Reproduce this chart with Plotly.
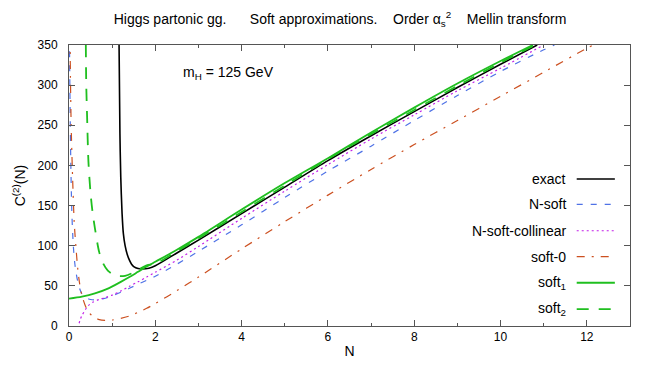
import plotly.graph_objects as go

# ---------------- data ----------------
N_exact = [1.16, 1.18, 1.20, 1.23, 1.26, 1.30, 1.35, 1.40, 1.45, 1.50, 1.60, 1.70, 1.85,
           2.0, 2.5, 3.0, 4.0, 5.0, 6.0, 7.0, 8.0, 9.0, 10.0, 10.85]
C_exact = [350, 240, 185, 140, 115, 100, 89, 82, 77, 74, 71.5, 71, 72,
           75, 91, 107, 140, 173, 206, 237, 267, 297, 326, 350]

N_nsoft = [0.01, 0.02, 0.03, 0.04, 0.055, 0.07, 0.10, 0.13, 0.16, 0.20, 0.25, 0.30, 0.40,
           0.50, 0.60, 0.80, 1.0, 1.2, 1.4, 1.6, 1.8, 2.0, 2.5, 3.0, 4.0, 5.0, 6.0, 7.0,
           8.0, 9.0, 10.0, 11.0, 11.25]
C_nsoft = [360, 300, 250, 210, 165, 135, 100, 80, 68, 56, 46, 40, 35,
           33, 32.5, 34, 37.5, 42, 47, 52, 57, 62, 77, 93, 126, 160, 193, 224,
           256, 287, 317, 344, 350]

N_nsc = [0.18, 0.22, 0.26, 0.30, 0.38, 0.45, 0.55, 0.70, 0.85, 1.0, 1.2, 1.4, 1.6, 1.8,
         2.0, 2.5, 3.0, 4.0, 5.0, 6.0, 7.0, 8.0, 9.0, 10.0, 11.0]
C_nsc = [-15, 0, 8, 13, 20.5, 25.5, 29.5, 33, 35.5, 38.5, 43.5, 49.5, 55, 61,
         67, 82, 99, 134, 168, 201, 233, 263, 293, 321, 350]

N_soft0 = [0.025, 0.03, 0.05, 0.085, 0.12, 0.16, 0.20, 0.24, 0.30, 0.38, 0.45, 0.55, 0.70,
           0.85, 1.0, 1.2, 1.4, 1.6, 1.8, 2.0, 2.5, 3.0, 4.0, 5.0, 6.0, 7.0, 8.0, 9.0,
           10.0, 11.0, 12.0, 12.15]
C_soft0 = [360, 327, 250, 182, 130, 99, 73, 55, 38, 25, 18, 12, 8,
           7, 7.5, 9.5, 12.5, 17, 22, 28, 44, 61, 96, 130, 163, 195, 226, 256,
           286, 316, 346, 350]

N_soft1 = [0.0, 0.3, 0.6, 0.9, 1.2, 1.4, 1.6, 1.8, 2.0, 2.5, 3.0, 4.0, 5.0, 6.0, 7.0,
           8.0, 9.0, 10.0, 10.75]
C_soft1 = [34, 36.5, 40.5, 46.5, 55, 61, 67.5, 74, 80, 95, 111, 145, 178, 209, 241,
           272, 302, 330, 350]

N_soft2 = [0.39, 0.40, 0.42, 0.45, 0.50, 0.55, 0.60, 0.70, 0.80, 0.90, 1.0, 1.1, 1.2,
           1.3, 1.45, 1.6, 1.8, 2.0, 2.5, 3.0, 4.0, 5.0, 6.0, 7.0, 8.0, 9.0, 10.0, 10.8]
C_soft2 = [350, 300, 260, 205, 165, 140, 122, 92, 77, 69, 65, 62.5, 62,
           62.5, 65.5, 70, 75.5, 77.5, 93, 109, 142, 175, 208, 239, 269, 299, 328, 350]

x_tickvals = [0, 2, 4, 6, 8, 10, 12]
y_tickvals = [0, 50, 100, 150, 200, 250, 300, 350]

legend_labels = ["exact", "N-soft", "N-soft-collinear", "soft-0",
                 "soft<sub>1</sub>", "soft<sub>2</sub>"]

# ---------------- styles ----------------
FONT = "Liberation Sans, Arial, Helvetica, sans-serif"
NB = "\u00a0"
styles = [
    dict(color="#000000", width=1.6, dash="solid"),
    dict(color="#4f72e6", width=1.2, dash="6px,8px"),
    dict(color="#c21ee8", width=1.2, dash="2px,3px"),
    dict(color="#cc5020", width=1.2, dash="8px,7px,2px,7px"),
    dict(color="#1fbf1f", width=1.8, dash="solid"),
    dict(color="#1fbf1f", width=1.8, dash="12px,10px"),
]
series = [(N_exact, C_exact), (N_nsoft, C_nsoft), (N_nsc, C_nsc),
          (N_soft0, C_soft0), (N_soft1, C_soft1), (N_soft2, C_soft2)]

fig = go.Figure()
for (xs, ys), st, name in zip(series, styles, legend_labels):
    fig.add_trace(go.Scatter(x=xs, y=ys, mode="lines", name=name,
                             line=dict(color=st["color"], width=st["width"],
                                       dash=st["dash"], shape="spline", smoothing=0.8),
                             showlegend=False, hoverinfo="skip"))

# gnuplot-style key: text right-aligned, sample line to its right
key_y = [0.523, 0.433, 0.339, 0.247, 0.154, 0.060]
annotations = []
shapes = []
for lab, st, ky in zip(legend_labels, styles, key_y):
    annotations.append(dict(text=lab, xref="paper", yref="paper", x=0.890, y=ky,
                            xanchor="right", yanchor="middle", showarrow=False,
                            font=dict(family=FONT, size=14, color="#000")))
    shapes.append(dict(type="line", xref="paper", yref="paper",
                       x0=0.905, x1=0.973, y0=ky, y1=ky,
                       line=dict(color=st["color"], width=st["width"], dash=st["dash"])))

annotations.append(dict(text="m<sub>H</sub> = 125 GeV", xref="paper", yref="paper",
                        x=0.200, y=0.900, xanchor="left", yanchor="middle",
                        showarrow=False, font=dict(family=FONT, size=14, color="#000")))

fig.update_layout(
    width=664, height=372,
    margin=dict(l=59, r=42, t=37, b=54),
    paper_bgcolor="white", plot_bgcolor="white",
    font=dict(family=FONT, size=12, color="#000"),
    title=dict(text="Higgs partonic gg." + NB * 6 + "Soft approximations." + NB * 4 + "Order"
                    + NB + "\u03b1<sub>s</sub><sup>2</sup>" + NB * 4 + "Mellin transform",
               x=0.5, xanchor="center", y=0.970, yanchor="middle",
               font=dict(family=FONT, size=14, color="#000")),
    annotations=annotations, shapes=shapes,
)
fig.update_xaxes(range=[0, 13], tickvals=x_tickvals, ticks="inside", ticklen=6,
                 tickcolor="#555", showline=True, linecolor="#555", linewidth=1,
                 mirror="ticks", showgrid=False, zeroline=False,
                 minor=dict(dtick=1, ticks="inside", ticklen=3, tickcolor="#555"),
                 title=dict(text="N", font=dict(family=FONT, size=14), standoff=2),
                 tickfont=dict(family=FONT, size=12))
fig.update_yaxes(range=[0, 350], tickvals=y_tickvals, ticks="inside", ticklen=6,
                 tickcolor="#555", showline=True, linecolor="#555", linewidth=1,
                 mirror="ticks", showgrid=False, zeroline=False, ticklabelstandoff=8,
                 title=dict(text="C<sup>(2)</sup>(N)", font=dict(family=FONT, size=14), standoff=8),
                 tickfont=dict(family=FONT, size=12))

fig.write_html("out.html")
